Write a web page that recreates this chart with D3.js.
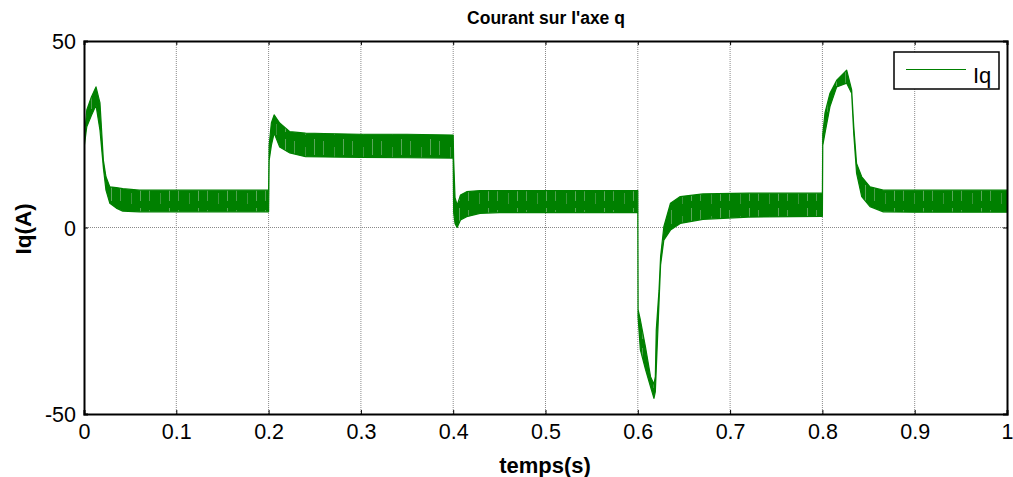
<!DOCTYPE html>
<html><head><meta charset="utf-8">
<script src="https://cdn.jsdelivr.net/npm/d3@7"></script>
<style>html,body{margin:0;padding:0;background:#fff;}svg{display:block;font-family:"Liberation Sans",Arial,sans-serif;}</style>
</head><body><svg id="c" width="1013" height="477"></svg>
<script>
// Sample times (s) and ripple envelope of Iq (A)
const time = [
  0, 0.0004, 0.003, 0.008, 0.013, 0.0173, 0.021, 0.0238, 0.028, 0.035, 0.042, 0.06, 0.1, 0.15, 0.1996,
  0.2, 0.2006, 0.203, 0.206, 0.212, 0.223, 0.24, 0.26, 0.3, 0.35, 0.3996,
  0.4, 0.4005, 0.402, 0.4043, 0.4079, 0.4146, 0.429, 0.45, 0.5, 0.5996,
  0.6, 0.6003, 0.6028, 0.6083, 0.6138, 0.6175, 0.619, 0.62, 0.623, 0.6247, 0.6282, 0.6354, 0.646, 0.6706, 0.72, 0.7996,
  0.8, 0.8004, 0.8028, 0.8082, 0.8155, 0.8263, 0.8317, 0.834, 0.837, 0.8426, 0.8516, 0.866, 0.9, 1.0
];
const upperEnv = [
  0, 24, 31.5, 35, 37.7, 33.4, 18, 13.6, 10.9, 10.7, 10.4, 10, 10, 10, 10,
  10, 22, 28, 30.2, 28, 25.7, 25.3, 25.2, 25, 25, 24.8,
  24.8, 18, 8, 6, 8.7, 9.6, 9.9, 9.9, 9.9, 9.9,
  9.9, -22, -24.8, -32, -40, -42, -40, -27.5, -16.8, -7.8, 0.2, 6.5, 8.3, 9, 9.2, 9.2,
  9.2, 25, 30.7, 36, 39.5, 42.2, 36.9, 27, 17.2, 13.6, 10.9, 10, 10, 10
];
const lowerEnv = [
  0, 22, 27, 30, 32.8, 26.1, 16, 10, 6.5, 5.2, 4.4, 4.2, 4.2, 4.2, 4.2,
  4.2, 18, 22, 25.3, 21.6, 20, 19, 18.9, 18.8, 18.7, 18.6,
  18.6, 4, 1, 0, 2, 2.9, 3.8, 4, 4, 4,
  4, -24, -32.8, -38, -42.7, -45.8, -44, -38, -20, -10, -3.4, -0.7, 1.1, 2.2, 2.8, 3,
  3, 22, 25.3, 32.4, 37.7, 38.7, 36, 25, 14.6, 8.3, 5.6, 4.2, 4.1, 4.1
];
const xTicks = [0, 0.1, 0.2, 0.3, 0.4, 0.5, 0.6, 0.7, 0.8, 0.9, 1];
const xTickLabels = ["0", "0.1", "0.2", "0.3", "0.4", "0.5", "0.6", "0.7", "0.8", "0.9", "1"];
const yTicks = [-50, 0, 50];
const yTickLabels = ["-50", "0", "50"];
const titleText = "Courant sur l'axe q";
const xLabel = "temps(s)";
const yLabel = "Iq(A)";
const legendLabel = "Iq";

const data = time.map((t, i) => ({t, up: upperEnv[i], lo: lowerEnv[i]}));
const svg = d3.select("#c");
const L = 84, R = 1007, T = 41, B = 414;
const x = d3.scaleLinear().domain([0, 1]).range([L, R]);
const y = d3.scaleLinear().domain([-50, 50]).range([B, T]);
const green = "#008000";

// ripple texture (decorative streaks)
const defs = svg.append("defs");
const pat = defs.append("pattern").attr("id", "ripple").attr("patternUnits", "userSpaceOnUse")
  .attr("width", 29).attr("height", 23);
pat.append("rect").attr("width", 29).attr("height", 23).attr("fill", green);
pat.append("rect").attr("x", 4).attr("y", 3).attr("width", 1).attr("height", 14).attr("fill", "#4d9f4d");
pat.append("rect").attr("x", 15).attr("y", 9).attr("width", 1).attr("height", 11).attr("fill", "#3a953a");
pat.append("rect").attr("x", 24).attr("y", 1).attr("width", 1).attr("height", 16).attr("fill", "#5aa75a");

// grid
svg.append("g").selectAll("line").data(xTicks.slice(1, -1)).join("line")
  .attr("x1", d => x(d)).attr("x2", d => x(d)).attr("y1", T).attr("y2", B)
  .attr("stroke", "#8a8a8a").attr("stroke-width", 1).attr("stroke-dasharray", "1,1");
svg.append("g").selectAll("line").data(yTicks.slice(1, -1)).join("line")
  .attr("x1", L).attr("x2", R).attr("y1", d => y(d)).attr("y2", d => y(d))
  .attr("stroke", "#8a8a8a").attr("stroke-width", 1).attr("stroke-dasharray", "1,1");

// signal band
svg.append("clipPath").attr("id", "clp").append("rect")
  .attr("x", L).attr("y", T).attr("width", R - L).attr("height", B - T);
const plot = svg.append("g").attr("clip-path", "url(#clp)");
plot.append("path").datum(data)
  .attr("d", d3.area().x(d => x(d.t)).y0(d => y(d.lo)).y1(d => y(d.up)))
  .attr("fill", "url(#ripple)").attr("stroke", green).attr("stroke-width", 1.2).attr("stroke-linejoin", "round");

// axes
const xb = svg.append("g").attr("transform", `translate(0,${B})`)
  .call(d3.axisBottom(x).tickValues(xTicks).tickFormat((d, i) => xTickLabels[i]).tickSize(-4).tickPadding(10));
const xt = svg.append("g").attr("transform", `translate(0,${T})`)
  .call(d3.axisTop(x).tickValues(xTicks).tickFormat("").tickSize(-4));
const yl = svg.append("g").attr("transform", `translate(${L},0)`)
  .call(d3.axisLeft(y).tickValues(yTicks).tickFormat((d, i) => yTickLabels[i]).tickSize(-4).tickPadding(8));
const yr = svg.append("g").attr("transform", `translate(${R},0)`)
  .call(d3.axisRight(y).tickValues(yTicks).tickFormat("").tickSize(-4));
[xb, xt, yl, yr].forEach(g => {
  g.select(".domain").attr("stroke", "#000").attr("stroke-width", 2);
  g.selectAll(".tick line").attr("stroke", "#000").attr("stroke-width", 1);
  g.selectAll("text").attr("font-size", 21.5).attr("fill", "#000").attr("font-family", "Liberation Sans, Arial, sans-serif");
});
yl.selectAll("text").attr("dy", "0.36em");
xb.selectAll("text").attr("dy", "0.72em");

// labels
svg.append("text").attr("x", 546).attr("y", 24).attr("text-anchor", "middle")
  .attr("font-weight", "bold").attr("font-size", 17.5).text(titleText);
svg.append("text").attr("x", 545).attr("y", 473).attr("text-anchor", "middle")
  .attr("font-weight", "bold").attr("font-size", 22).text(xLabel);
svg.append("text").attr("transform", "translate(31,229) rotate(-90)").attr("text-anchor", "middle")
  .attr("font-weight", "bold").attr("font-size", 22.5).text(yLabel);

// legend
const lg = svg.append("g");
lg.append("rect").attr("x", 894).attr("y", 52).attr("width", 105).attr("height", 37)
  .attr("fill", "#fff").attr("stroke", "#000").attr("stroke-width", 1.5);
lg.append("line").attr("x1", 906).attr("x2", 966).attr("y1", 69.5).attr("y2", 69.5)
  .attr("stroke", green).attr("stroke-width", 1);
lg.append("text").attr("x", 973).attr("y", 83).attr("font-size", 22).text(legendLabel);
</script></body></html>
